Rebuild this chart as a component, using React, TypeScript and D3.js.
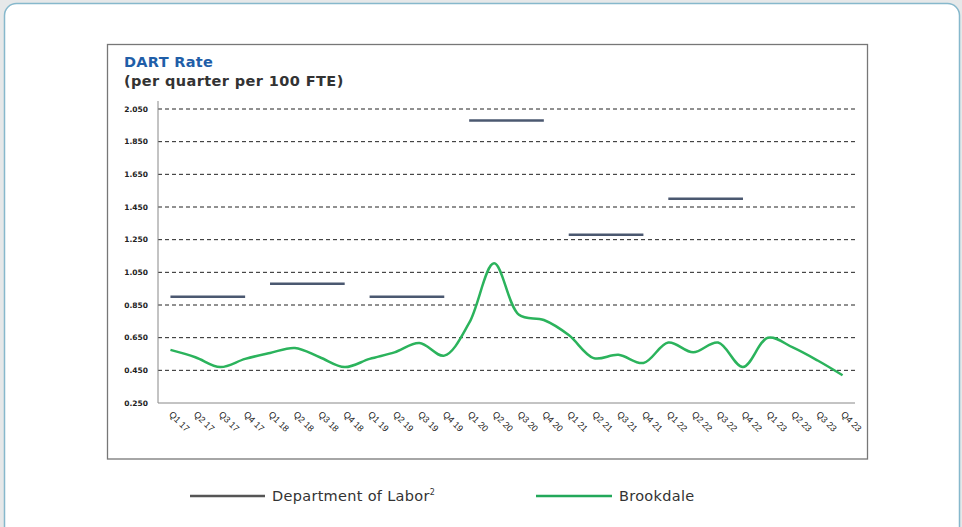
import { useEffect, useRef } from 'react';
import * as d3 from 'd3';

const quarters = [
  'Q1 17', 'Q2 17', 'Q3 17', 'Q4 17',
  'Q1 18', 'Q2 18', 'Q3 18', 'Q4 18',
  'Q1 19', 'Q2 19', 'Q3 19', 'Q4 19',
  'Q1 20', 'Q2 20', 'Q3 20', 'Q4 20',
  'Q1 21', 'Q2 21', 'Q3 21', 'Q4 21',
  'Q1 22', 'Q2 22', 'Q3 22', 'Q4 22',
  'Q1 23', 'Q2 23', 'Q3 23', 'Q4 23',
];

const brookdale = [
  0.575, 0.53, 0.47, 0.52,
  0.556, 0.587, 0.53, 0.47,
  0.52, 0.56, 0.617, 0.54,
  0.74, 1.105, 0.79, 0.758,
  0.666, 0.525, 0.545, 0.495,
  0.62, 0.56, 0.62, 0.47,
  0.65, 0.59, 0.51, 0.42,
];

// Department of Labor yearly rate, drawn across the four quarters of its year
const dolYears = ['17', '18', '19', '20', '21', '22'];
const dolRates = [0.9, 0.98, 0.9, 1.98, 1.28, 1.5];

const yTicks = [0.25, 0.45, 0.65, 0.85, 1.05, 1.25, 1.45, 1.65, 1.85, 2.05];

const W = 962;
const H = 527;

export default function App() {
  const ref = useRef<SVGSVGElement>(null);

  useEffect(() => {
    if (!ref.current) return;
    const svg = d3.select(ref.current);
    svg.selectAll('*').remove();

    // background + card
    svg.append('rect').attr('width', W).attr('height', H).attr('fill', '#e6e8e9');
    svg.append('rect')
      .attr('x', 4.5).attr('y', 3.5).attr('width', 955).attr('height', 560)
      .attr('rx', 12).attr('fill', '#ffffff')
      .attr('stroke', '#86b8cc').attr('stroke-width', 1.5);

    // chart box
    svg.append('rect')
      .attr('x', 107.5).attr('y', 44.5).attr('width', 760).attr('height', 414.5)
      .attr('fill', 'none').attr('stroke', '#777').attr('stroke-width', 1.3);

    svg.append('text')
      .attr('x', 124).attr('y', 67)
      .style('font-family', 'DejaVu Sans, sans-serif')
      .style('font-weight', 'bold').style('font-size', '14.5px')
      .style('letter-spacing', '0.3px')
      .style('fill', '#1f5ea8')
      .text('DART Rate');
    svg.append('text')
      .attr('x', 124).attr('y', 86)
      .style('font-family', 'DejaVu Sans, sans-serif')
      .style('font-weight', 'bold').style('font-size', '14.5px')
      .style('letter-spacing', '0.4px')
      .style('fill', '#333')
      .text('(per quarter per 100 FTE)');

    const left = 158, right = 855, top = 109, bottom = 403;

    const x = d3.scalePoint<string>().domain(quarters).range([left, right]).padding(0.5);
    const y = d3.scaleLinear().domain([0.25, 2.05]).range([bottom, top]);

    // gridlines
    svg.append('g').selectAll('line')
      .data(yTicks.slice(1))
      .enter().append('line')
      .attr('x1', left).attr('x2', right)
      .attr('y1', d => y(d)).attr('y2', d => y(d))
      .attr('stroke', '#222').attr('stroke-width', 1)
      .attr('stroke-dasharray', '4,3');

    // axes lines
    svg.append('line')
      .attr('x1', left).attr('x2', right).attr('y1', bottom).attr('y2', bottom)
      .attr('stroke', '#888').attr('stroke-width', 1);
    svg.append('line')
      .attr('x1', left).attr('x2', left).attr('y1', top - 8).attr('y2', bottom)
      .attr('stroke', '#888').attr('stroke-width', 1);

    // y tick labels
    svg.append('g').selectAll('text')
      .data(yTicks)
      .enter().append('text')
      .attr('x', 148).attr('y', d => y(d)).attr('dy', '0.35em')
      .attr('text-anchor', 'end')
      .style('font-family', 'DejaVu Sans, sans-serif')
      .style('font-weight', 'bold').style('font-size', '7.5px')
      .style('fill', '#222')
      .text(d => d.toFixed(3));

    // x tick labels
    svg.append('g').selectAll('text')
      .data(quarters)
      .enter().append('text')
      .attr('transform', d => `translate(${(x(d) as number) - 2},${bottom + 12}) rotate(45)`)
      .attr('text-anchor', 'start')
      .style('font-family', 'Liberation Sans, sans-serif')
      .style('font-size', '9px')
      .style('fill', '#222')
      .text(d => d);

    // Department of Labor segments
    svg.append('g').selectAll('line')
      .data(dolYears.map((yr, i) => ({ yr, v: dolRates[i] })))
      .enter().append('line')
      .attr('x1', d => x(`Q1 ${d.yr}`) as number)
      .attr('x2', d => x(`Q4 ${d.yr}`) as number)
      .attr('y1', d => y(d.v)).attr('y2', d => y(d.v))
      .attr('stroke', '#4b5870').attr('stroke-width', 2.5);

    // Brookdale smooth line
    const line = d3.line<number>()
      .x((_, i) => x(quarters[i]) as number)
      .y(d => y(d))
      .curve(d3.curveCatmullRom.alpha(0.5));
    svg.append('path')
      .datum(brookdale)
      .attr('d', line)
      .attr('fill', 'none')
      .attr('stroke', '#2bb35c').attr('stroke-width', 2.5);

    // legend
    const legend = [
      { label: 'Department of Labor', sup: '2', color: '#555', x1: 190, x2: 265 },
      { label: 'Brookdale', sup: '', color: '#22a85a', x1: 536, x2: 612 },
    ];
    const lg = svg.append('g');
    legend.forEach(l => {
      lg.append('line')
        .attr('x1', l.x1).attr('x2', l.x2).attr('y1', 496).attr('y2', 496)
        .attr('stroke', l.color).attr('stroke-width', 2.5);
      const t = lg.append('text')
        .attr('x', l.x2 + 7).attr('y', 501)
        .style('font-family', 'DejaVu Sans, sans-serif')
        .style('font-size', '14.5px').style('fill', '#333')
        .style('letter-spacing', '0.3px')
        .text(l.label);
      if (l.sup) {
        t.append('tspan').attr('dy', -6).style('font-size', '8px').text(l.sup);
      }
    });
  }, []);

  return (
    <svg
      ref={ref}
      width={W}
      height={H}
      style={{ position: 'absolute', left: 0, top: 0, display: 'block' }}
    />
  );
}
